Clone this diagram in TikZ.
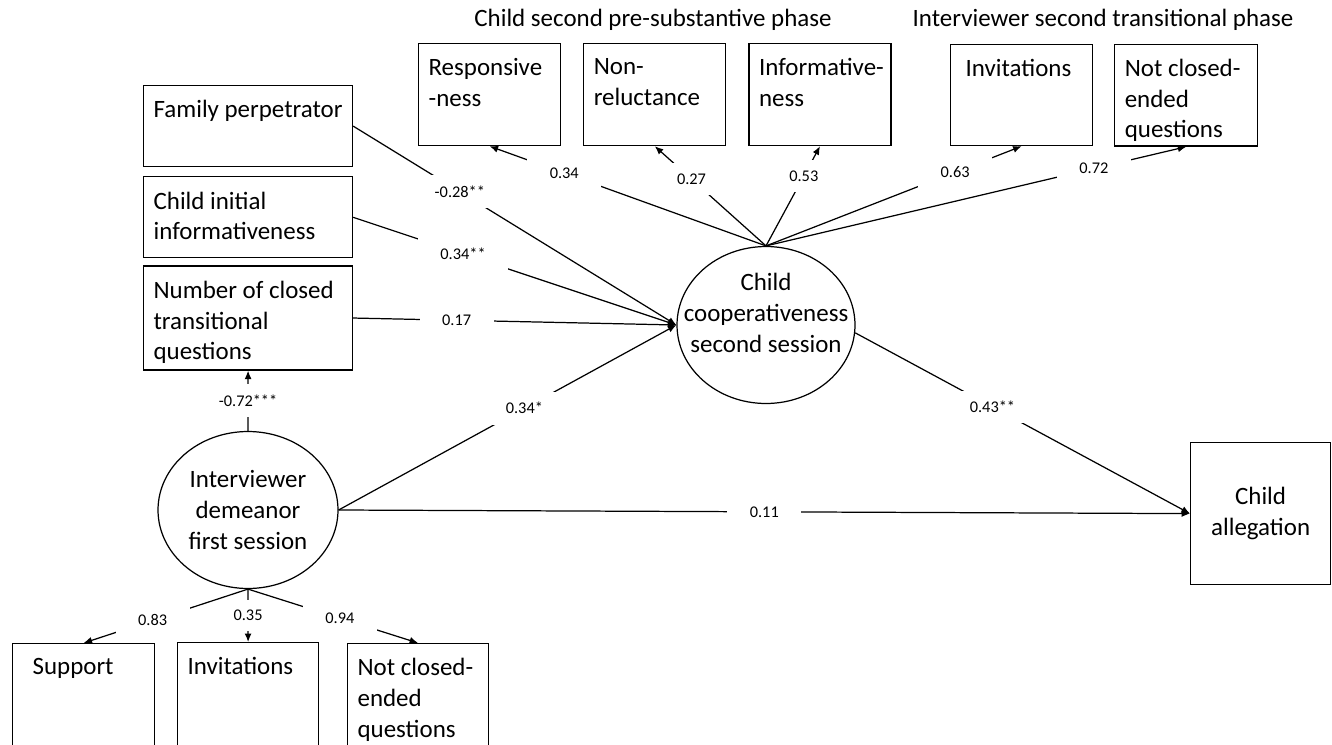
\documentclass[tikz,border=0pt]{standalone}
\usepackage{fontspec}
\setmainfont{Carlito}
\usetikzlibrary{positioning,shapes.geometric,arrows.meta}

\newcommand{\boxfont}{\fontsize{14.2}{17.5}\selectfont}
\newcommand{\lblfont}{\fontsize{9.3}{11}\selectfont}
% text at the top of a fixed size box: width, height (cm), text
\newcommand{\boxtext}[3]{\parbox[c][#2cm][t]{#1cm}{\raggedright\vspace*{0.3cm}#3}}

\begin{document}
\begin{tikzpicture}[
    x=0.02cm, y=-0.02cm,
    line width=0.7pt,
    >={Latex[length=0.17cm,width=0.14cm]},
    box/.style={draw, inner xsep=0.2cm, inner ysep=0pt, font=\boxfont},
    latent/.style={draw, ellipse, inner sep=0pt, minimum height=3.14cm},
    ltext/.style={align=center, font=\boxfont, inner sep=0pt},
    head/.style={font=\boxfont, inner sep=0pt},
    lbl/.style={fill=white, font=\lblfont, inner xsep=0.45cm, inner ysep=0.21cm}
]
\useasboundingbox (0,0) rectangle (1332,744);
\clip (0,0) rectangle (1332,744);

% child second session, top row
\node[box, anchor=north west] (resp) at (418,43) {\boxtext{2.44}{2.04}{Responsive\\-ness}};
\node[box, right=0.44cm of resp] (nonrel) {\boxtext{2.44}{2.04}{Non-\\reluctance}};
\node[box, right=0.44cm of nonrel] (inform) {\boxtext{2.44}{2.04}{\mbox{Informative-}\\ness}};
\node[box, anchor=north west] (invit2) at (950,44) {\boxtext{2.44}{2.02}{\hspace*{0.1cm}Invitations}};
\node[box, right=0.42cm of invit2] (notce2) {\boxtext{2.46}{2.04}{Not closed-\\ended\\questions}};
\node[head] at (653,20) {Child second pre-substantive phase};
\node[head] at (1103,20) {Interviewer second transitional phase};

% predictors
\node[box, anchor=north west] (famp) at (143,85) {\boxtext{3.78}{1.62}{Family perpetrator}};
\node[box, below=0.18cm of famp] (chinit) {\boxtext{3.78}{1.62}{Child initial\\informativeness}};
\node[box, below=0.14cm of chinit] (numcl) {\boxtext{3.78}{2.08}{Number of closed\\transitional\\questions}};

% latent variables
\node[latent, minimum width=3.56cm, label={[ltext, yshift=0.24cm]center:Child\\cooperativeness\\second session}] (coop) at (766,325) {};
\node[latent, minimum width=3.6cm, label={[ltext]center:Interviewer\\demeanor\\first session}] (intdem) at (248,510) {};

% outcome
\node[draw, font=\boxfont, align=center, anchor=north west, minimum width=2.8cm, minimum height=2.84cm] (alleg) at (1190,442) {Child\\allegation};

% interviewer first session, bottom row
\node[box, anchor=north west] (support) at (12,643) {\boxtext{2.44}{2.6}{\hspace*{0.2cm}Support}};
\node[box, anchor=north west] (invit1) at (177,642) {\boxtext{2.42}{2.6}{Invitations}};
\node[box, anchor=north west] (notce1) at (347,643) {\boxtext{2.42}{2.6}{Not closed-\\ended\\questions}};

\draw[->] (coop.north) -- node[lbl, pos=.73] {0.34} (resp.south);
\draw[->] (coop.north) -- node[lbl, pos=.67] {0.27} (nonrel.south);
\draw[->] (coop.north) -- node[lbl, pos=.7] {0.53} (inform.south);
\draw[->] (coop.north) -- node[lbl, pos=.74] {0.63} (invit2.south);
\draw[->] (coop.north) -- node[lbl, pos=.78] {0.72} (notce2.south);
\draw[->] (famp.east) -- node[lbl, pos=.33] {-0.28**} (coop.west);
\draw[->] (chinit.east) -- node[lbl, pos=.34] {0.34**} (coop.west);
\draw[->] (numcl.east) -- node[lbl, pos=.32] {0.17} (coop.west);
\draw[->] (intdem.east) -- node[lbl, pos=.55] {0.34*} (coop.west);
\draw[->] (intdem.north) -- node[lbl, pos=.5, inner xsep=2pt] {-0.72***} (numcl.south);
\draw[->] (intdem.east) -- node[lbl, pos=.5] {0.11} (alleg.west);
\draw[->] (coop.-5) -- node[lbl, pos=.41] {0.43**} (alleg.west);
\draw[->] (intdem.south) -- node[lbl, pos=.58] {0.83} (support.north);
\draw[->] (intdem.south) -- node[lbl, pos=.5, inner xsep=2pt] {0.35} (invit1.north);
\draw[->] (intdem.south) -- node[lbl, pos=.54] {0.94} (notce1.north);
\end{tikzpicture}
\end{document}
